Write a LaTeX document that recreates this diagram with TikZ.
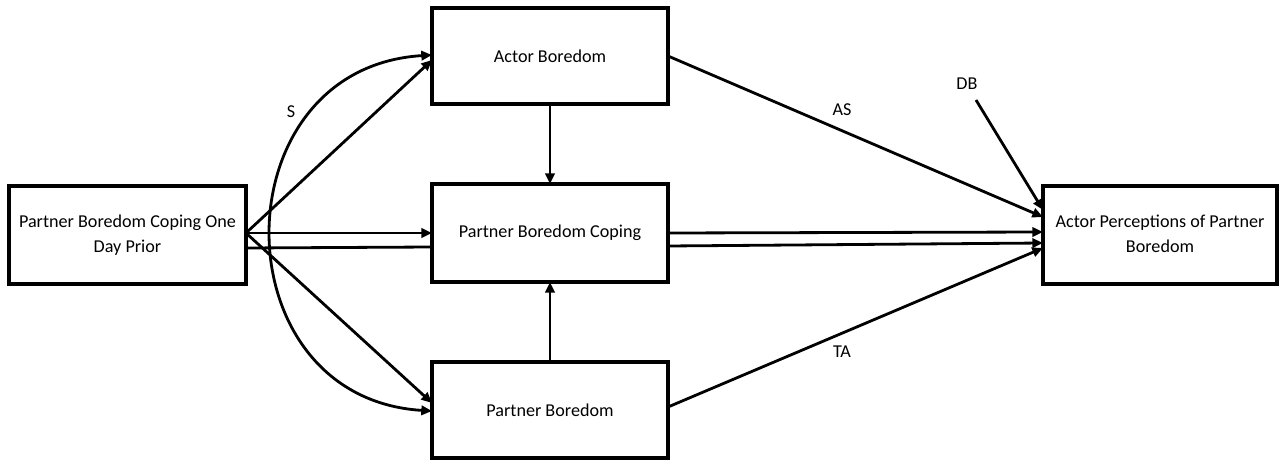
\documentclass[tikz,border=0pt]{standalone}
\usepackage{fontspec}
\setmainfont{Carlito}
\usetikzlibrary{arrows.meta}
\begin{document}
\begin{tikzpicture}[x=0.75pt,y=-0.75pt,
  box/.style={draw, line width=2.5pt, inner sep=0pt, outer sep=0pt, align=center,
    font=\fontsize{13.6}{18.75}\selectfont},
  conn/.style={line width=2.1pt, -{Triangle[length=8pt,width=7pt]}},
  plain/.style={line width=2.1pt},
  lbl/.style={font=\fontsize{13.6}{16}\selectfont, inner sep=0pt}]
\useasboundingbox (0,0) rectangle (1279,460);
\node[box, minimum width=177.75pt, minimum height=73.5pt] (L) at (127.5,235) {\raisebox{-2.5pt}{\begin{tabular}{@{}c@{}}Partner Boredom Coping One\\Day Prior\end{tabular}}};
\node[box, minimum width=177pt, minimum height=72pt] (A) at (550,56) {\raisebox{-1.5pt}{Actor Boredom}};
\node[box, minimum width=177pt, minimum height=73.5pt] (C) at (550,233) {\raisebox{-2pt}{Partner Boredom Coping}};
\node[box, minimum width=177pt, minimum height=72pt] (P) at (550,410) {\raisebox{-1.5pt}{Partner Boredom}};
\node[box, minimum width=175.5pt, minimum height=73.5pt] (R) at (1160,235) {\raisebox{-2.5pt}{\begin{tabular}{@{}c@{}}Actor Perceptions of Partner\\Boredom\end{tabular}}};
\node[lbl] (S) at (291,112) {S};
\node[lbl] (AS) at (842,110) {AS};
\node[lbl] (TA) at (842,352) {TA};
\node[lbl] (DB) at (967,84) {DB};
\coordinate (dbs) at (976,100);
% left arrows
\draw[conn] ([yshift=1.5pt]L.east) -- ([yshift=-3pt]A.west);
\draw[conn] ([yshift=1.5pt]L.east) -- (C.west);
\draw[plain] ([yshift=-9.75pt]L.east) -- ([yshift=-10.5pt]C.west);
\draw[conn] ([yshift=1.5pt]L.east) -- ([yshift=5.25pt]P.west);
% S curve
\draw[line width=2.1pt, {Triangle[length=8pt,width=7pt]}-{Triangle[length=8pt,width=7pt]}]
  ([yshift=0.75pt]A.west) .. controls (218,68) and (218,398) .. ([yshift=-0.75pt]P.west);
% vertical
\draw[conn] (A.south) -- (C.north);
\draw[conn] (P.north) -- (C.south);
% right arrows
\draw[conn] (A.east) -- ([yshift=13.5pt]R.west);
\draw[conn] (C.east) -- ([yshift=2.25pt]R.west);
\draw[conn] ([yshift=-9.75pt]C.east) -- ([yshift=-6pt]R.west);
\draw[conn] ([yshift=2.25pt]P.east) -- ([yshift=-9.75pt]R.west);
\draw[conn] (dbs) -- ([yshift=18.75pt]R.west);
\end{tikzpicture}
\end{document}
